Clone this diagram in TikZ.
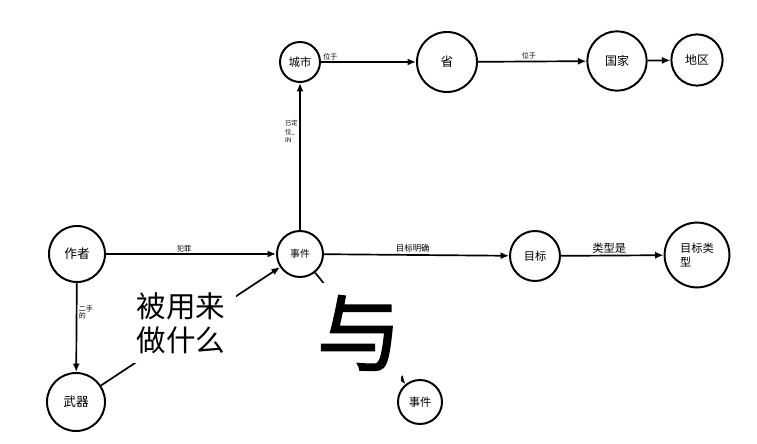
\documentclass[tikz,border=0pt]{standalone}
\usepackage{fontspec}
\setmainfont{Noto Sans CJK SC}
\newfontfamily\yufont[FakeBold=2]{Noto Sans CJK SC}
\usepackage{tikz}
\usetikzlibrary{arrows.meta}

\begin{document}
\begin{tikzpicture}[x=0.025cm, y=-0.025cm,
  ent/.style={circle, draw, line width=1.4pt, inner sep=0pt, font=\fontsize{9}{10}\selectfont},
  rel/.style={line width=1.2pt, -{Latex[length=6pt, width=5pt]}},
  lab/.style={font=\fontsize{5}{5.5}\selectfont, inner sep=1pt}]
\useasboundingbox (0,0) rectangle (757,444);

\node[ent, minimum size=1.4cm] (zuozhe) at (77,254) {作者};
\node[ent, minimum size=1.15cm, font=\fontsize{7}{8}\selectfont] (shijian) at (300,254) {事件};
\node[ent, minimum size=1cm, font=\fontsize{8}{9}\selectfont] (chengshi) at (300,62) {城市};
\node[ent, minimum size=1.5cm] (sheng) at (447,62) {省};
\node[ent, minimum size=1.48cm, font=\fontsize{8.5}{9}\selectfont] (guojia) at (617,61) {国家};
\node[ent, minimum size=1.28cm, font=\fontsize{8.5}{9}\selectfont] (diqu) at (697,60) {地区};
\node[ent, minimum size=1.25cm, font=\fontsize{8}{9}\selectfont] (mubiao) at (535,256) {目标};
\node[ent, minimum size=1.62cm, align=left, font=\fontsize{8}{10}\selectfont] (leixing) at (697,255) {目标类\\型};
\node[ent, minimum size=1.45cm] (wuqi) at (76,402) {武器};
\node[ent, minimum size=1.1cm, font=\fontsize{8}{9}\selectfont] (shijianB) at (420,402) {事件};

\draw[rel] (zuozhe) -- node[lab, above, pos=0.46] {犯罪} (shijian);
\draw[rel] (shijian) -- node[lab, above, pos=0.48, font=\fontsize{6}{6}\selectfont] {目标明确} (mubiao);
\draw[rel] (mubiao) -- node[lab, above, pos=0.47, font=\fontsize{8}{8}\selectfont] {类型是} (leixing);
\draw[rel] (shijian) -- node[lab, left, pos=0.67, align=left, font=\fontsize{4.5}{6}\selectfont] {已定\\位\_\\IN} (chengshi);
\draw[rel] (chengshi) -- node[lab, above, pos=0.1] {位于} (sheng);
\draw[rel] (sheng) -- node[lab, above, pos=0.47] {位于} (guojia);
\draw[rel] (guojia) -- (diqu);
\draw[rel] (zuozhe) -- node[lab, right, pos=0.33, align=left] {二手\\的} (wuqi);
\draw[rel] (wuqi) -- (shijian);
\draw[rel] (shijian) -- (shijianB);

% pasted captions
\node[fill=white, minimum width=2.75cm, minimum height=2cm, align=center,
  font=\fontsize{21}{24}\selectfont] (caption) at (181,323) {被用来\\做什么};
\node[fill=white, minimum width=2cm, minimum height=2.5cm, inner sep=0pt,
  font=\yufont\fontsize{60}{60}\selectfont] (yu) at (359,333) {与};
\end{tikzpicture}
\end{document}
